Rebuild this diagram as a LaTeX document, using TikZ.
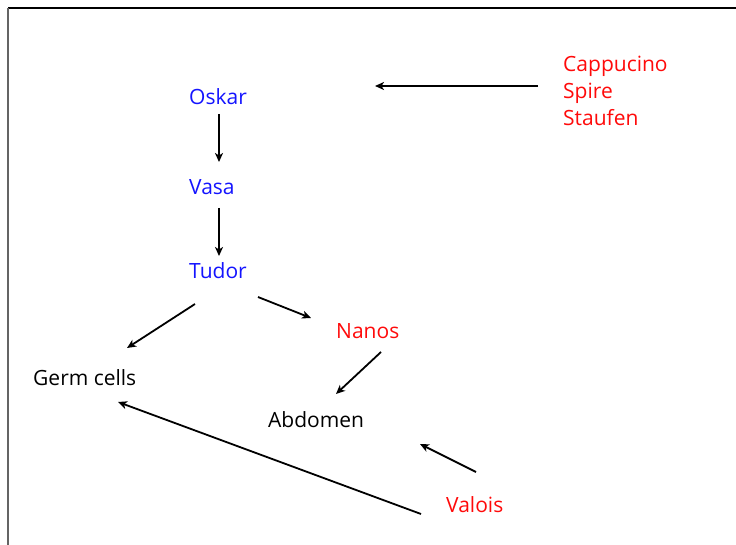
\documentclass[tikz,border=0pt]{standalone}
\usepackage{fontspec}
\setmainfont{Open Sans}
\usetikzlibrary{arrows.meta}
\definecolor{genblue}{RGB}{20,20,255}
\definecolor{genred}{RGB}{255,10,10}
\definecolor{framegray}{RGB}{100,100,100}
\begin{document}
\begin{tikzpicture}[x=1bp,y=-1bp,
  lbl/.style={anchor=base west,inner sep=0pt,font=\fontsize{21bp}{27bp}\selectfont},
  bluelbl/.style={lbl,text=genblue},
  redlbl/.style={lbl,text=genred},
  arr/.style={line width=1.8bp,-{Stealth[length=9bp,width=8bp,inset=2.5bp]}}]
  % canvas and frame edges
  \useasboundingbox (0,0) rectangle (736,545);
  \draw[line width=1.4bp] (8,8) -- (736,8);
  \draw[framegray,line width=1.6bp] (8,8) -- (8,545);

  % gene labels
  \node[bluelbl] (oskar) at (189,105) {Oskar};
  \node[bluelbl] (vasa)  at (189,195) {Vasa};
  \node[bluelbl] (tudor) at (189,279) {Tudor};
  \node[redlbl]  (capp)  at (563,72)  {Cappucino};
  \node[redlbl]  (spire) at (563,99)  {Spire};
  \node[redlbl]  (stau)  at (563,126) {Staufen};
  \node[redlbl]  (nanos) at (336,338) {Nanos};
  \node[lbl]     (germ)  at (33,385)  {Germ cells};
  \node[lbl]     (abd)   at (268,427) {Abdomen};
  \node[redlbl]  (valois) at (446,512) {Valois};

  % connector end points
  \coordinate (cappT) at (538,86);   \coordinate (cappH) at (375,86);
  \coordinate (oskT)  at (219,114);  \coordinate (oskH)  at (219,162);
  \coordinate (vasT)  at (219,208);  \coordinate (vasH)  at (219,256);
  \coordinate (tudGT) at (195,304);  \coordinate (tudGH) at (127,348);
  \coordinate (tudNT) at (258,297);  \coordinate (tudNH) at (311,318);
  \coordinate (nanAT) at (381,352);  \coordinate (nanAH) at (336,394);
  \coordinate (valAT) at (476,472);  \coordinate (valAH) at (420,444);
  \coordinate (valGT) at (421,514);  \coordinate (valGH) at (118,402);

  % connectors
  \draw[arr] (cappT) -- (cappH);
  \draw[arr] (oskT) -- (oskH);
  \draw[arr] (vasT) -- (vasH);
  \draw[arr] (tudGT) -- (tudGH);
  \draw[arr] (tudNT) -- (tudNH);
  \draw[arr] (nanAT) -- (nanAH);
  \draw[arr] (valAT) -- (valAH);
  \draw[arr] (valGT) -- (valGH);
\end{tikzpicture}
\end{document}
